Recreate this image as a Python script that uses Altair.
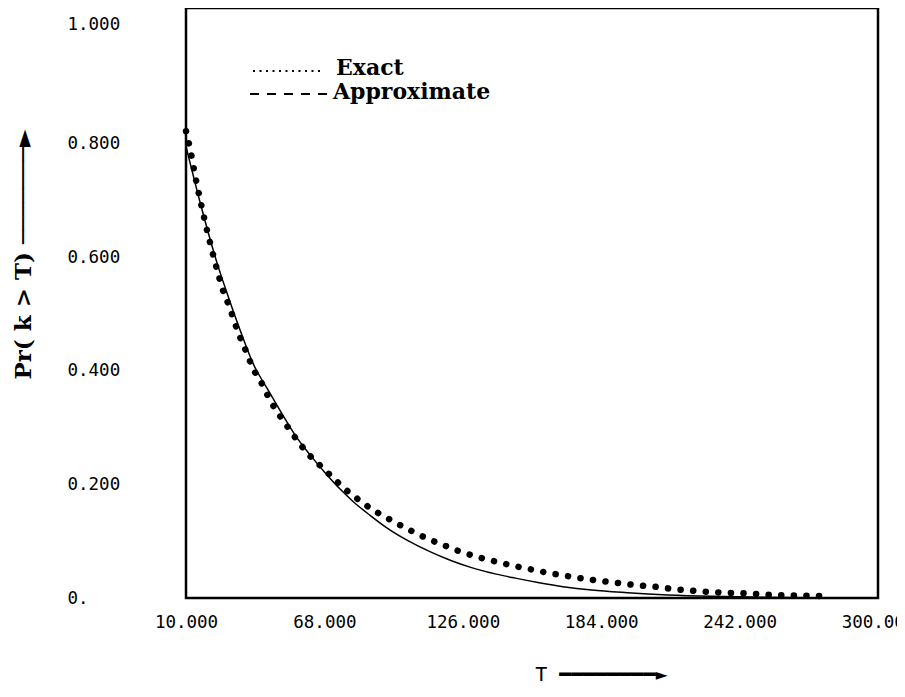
import altair as alt
import pandas as pd

# ---- data ----
exact_T = [10, 12, 14, 16, 18, 20, 22, 24, 26, 28, 30, 32, 35, 38, 42, 45, 48, 51, 54, 58,
           62, 66, 70, 74, 78, 83, 88, 93, 99, 105, 112, 118, 124, 130, 136, 142, 148, 155,
           162, 168, 175, 182, 190, 198, 206, 214, 222, 232, 245, 258, 270, 280]
exact_p = [0.822, 0.785, 0.740, 0.700, 0.662, 0.627, 0.594, 0.563, 0.535, 0.515, 0.490, 0.466,
           0.436, 0.405, 0.376, 0.350, 0.329, 0.311, 0.293, 0.270, 0.250, 0.234, 0.218, 0.202,
           0.187, 0.171, 0.156, 0.144, 0.130, 0.117, 0.103, 0.093, 0.083, 0.075, 0.068, 0.062,
           0.056, 0.050, 0.044, 0.040, 0.035, 0.031, 0.027, 0.023, 0.020, 0.016, 0.013, 0.010,
           0.008, 0.005, 0.004, 0.003]

approx_T = [10, 16, 23, 28, 33, 38, 45, 50, 56, 62, 68, 75, 80, 87, 94, 103, 112, 121, 130,
            140, 148, 158, 168, 180, 195, 212, 230, 250, 270, 285]
approx_p = [0.795, 0.695, 0.590, 0.527, 0.468, 0.414, 0.362, 0.326, 0.285, 0.252, 0.222, 0.190,
            0.170, 0.146, 0.124, 0.101, 0.082, 0.066, 0.053, 0.042, 0.035, 0.027, 0.020, 0.014,
            0.0094, 0.0055, 0.003, 0.0015, 0.0005, 0.0]

x_ticks = [10, 68, 126, 184, 242, 300]
y_ticks = [0, 0.2, 0.4, 0.6, 0.8, 1.0]
legend_labels = ["Exact", "Approximate"]

exact_df = pd.DataFrame({"T": exact_T, "p": exact_p})
approx_df = pd.DataFrame({"T": approx_T, "p": approx_p})
legend_df = pd.DataFrame({"label": legend_labels})

x_scale = alt.Scale(domain=[10, 300], nice=False, zero=False)
y_scale = alt.Scale(domain=[0, 1.0387], nice=False, zero=False)

x_axis = alt.Axis(
    values=x_ticks, format=".3f", grid=False, ticks=False, domain=False,
    labelFont="DejaVu Sans Mono", labelFontSize=17.5, labelPadding=15, labelColor="black",
    labelFlush=False, labelOverlap=False,
    title="T  " + "\u2501" * 8 + "\u25BA",
    titleFont="DejaVu Sans Mono", titleFontSize=20, titleFontWeight="normal",
    titleColor="black", titleX=415, titleY=76, titleAlign="center",
    titleBaseline="middle", titleAnchor="start",
)
y_axis = alt.Axis(
    values=y_ticks, grid=False, ticks=False, tickSize=0, domain=False,
    labelExpr="datum.value == 0 ? '0.' : format(datum.value, '.3f')",
    labelFont="DejaVu Sans Mono", labelFontSize=17.5, labelColor="black",
    labelAlign="left", labelBaseline="middle", labelPadding=119,
    labelFlush=False, labelOverlap=False,
    labelOffset={"condition": {"test": "datum.value == 1", "value": -5}, "value": 0},
    title="Pr( k > T) " + "\u2500" * 7 + "\u25BA",
    titleFont="DejaVu Serif", titleFontSize=23, titleFontWeight="bold",
    titleColor="black", titleAngle=270, titleX=-163, titleY=246,
    titleAlign="center", titleBaseline="middle", titleAnchor="start",
)

approx_line = alt.Chart(approx_df).mark_line(
    color="black", strokeWidth=1.5, interpolate="monotone"
).encode(
    x=alt.X("T:Q", scale=x_scale, axis=x_axis),
    y=alt.Y("p:Q", scale=y_scale, axis=y_axis),
)

exact_line = alt.Chart(exact_df).mark_line(
    color="black", strokeWidth=6.5, strokeCap="round", strokeDash=[0.1, 12.5],
    interpolate="monotone"
).encode(
    x=alt.X("T:Q", scale=x_scale),
    y=alt.Y("p:Q", scale=y_scale),
)

leg1_rule = alt.Chart(legend_df.iloc[[0]]).mark_rule(
    color="black", strokeWidth=2, strokeDash=[2, 4.5]
).encode(x=alt.value(67), x2=alt.value(136), y=alt.value(63))

leg2_rule = alt.Chart(legend_df.iloc[[1]]).mark_rule(
    color="black", strokeWidth=2, strokeDash=[9, 8]
).encode(x=alt.value(64), x2=alt.value(141), y=alt.value(86))

leg1_text = alt.Chart(legend_df.iloc[[0]]).mark_text(
    align="left", baseline="alphabetic", font="DejaVu Serif", fontSize=22,
    fontWeight="bold", color="black"
).encode(x=alt.value(150), y=alt.value(67), text="label:N")

leg2_text = alt.Chart(legend_df.iloc[[1]]).mark_text(
    align="left", baseline="alphabetic", font="DejaVu Serif", fontSize=22,
    fontWeight="bold", color="black"
).encode(x=alt.value(147), y=alt.value(91), text="label:N")

chart = alt.layer(
    approx_line, exact_line, leg1_rule, leg2_rule, leg1_text, leg2_text
).properties(
    width=692, height=590,
    padding={"left": 178, "top": 0, "right": 19, "bottom": 88},
    autosize=alt.AutoSizeParams(type="none"),
    background="white",
).configure_view(
    stroke="black", strokeWidth=2.5
)

chart.save("out.html", embed_options={"renderer": "svg", "actions": False})
